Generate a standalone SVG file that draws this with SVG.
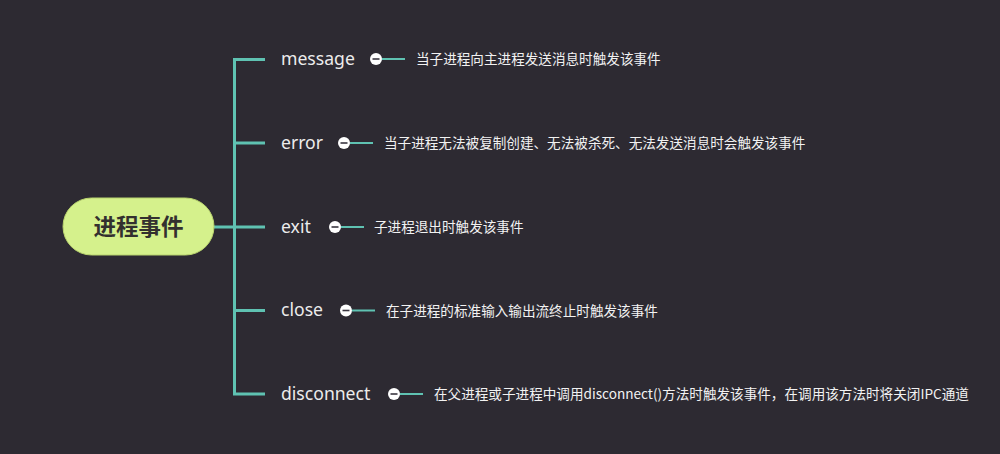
<svg xmlns="http://www.w3.org/2000/svg" width="1000" height="454" viewBox="0 0 1000 454">
<style>
.bg{fill:#2d2a32}
.ln{stroke:#5fc2b2;stroke-width:3;fill:none}
.sub{stroke:#5fc2b2;stroke-width:2;fill:none}
.lbl{font-family:"Noto Sans","Open Sans",sans-serif;font-size:17.6px;fill:#ececec}
.desc{font-family:"Noto Sans CJK SC","Noto Sans",sans-serif;font-size:13.6px;fill:#f2f2f2}
.root{font-family:"Noto Sans CJK SC","Noto Sans",sans-serif;font-size:22.5px;font-weight:bold;fill:#33302f}
.dot{fill:#ffffff}
.minus{stroke:#3a3640;stroke-width:1.6}
</style>
<defs>
<g id="collapse"><circle class="dot" r="6" cx="0" cy="0"/><line class="minus" x1="-3.5" y1="0" x2="3.5" y2="0"/></g>
</defs>
<rect class="bg" x="0" y="0" width="1000" height="454"/>
<g id="connectors">
<path class="ln" d="M214 227H234M265 59.5H234.5V394H265M234 143H265M234 227H265M234 310.5H265"/>
<path class="sub" d="M382 59H405M350 143H373M341 227H364M352 310.5H375M400 394H423"/>
</g>
<g id="root">
<rect x="63" y="198" width="151" height="57" rx="28.5" fill="#d5f18c" stroke="#b9d46e" stroke-width="1"/>
<text class="root" x="138.5" y="235" text-anchor="middle">进程事件</text>
</g>
<g id="message">
<text class="lbl" x="281" y="65">message</text>
<use href="#collapse" x="376" y="59"/>
<text class="desc" x="416" y="64">当子进程向主进程发送消息时触发该事件</text>
</g>
<g id="error">
<text class="lbl" x="281" y="149">error</text>
<use href="#collapse" x="344" y="143"/>
<text class="desc" x="384" y="148">当子进程无法被复制创建、无法被杀死、无法发送消息时会触发该事件</text>
</g>
<g id="exit">
<text class="lbl" x="281" y="233">exit</text>
<use href="#collapse" x="335" y="227"/>
<text class="desc" x="374" y="232">子进程退出时触发该事件</text>
</g>
<g id="close">
<text class="lbl" x="281" y="316">close</text>
<use href="#collapse" x="346" y="310.5"/>
<text class="desc" x="386" y="315.5">在子进程的标准输入输出流终止时触发该事件</text>
</g>
<g id="disconnect">
<text class="lbl" x="281" y="400">disconnect</text>
<use href="#collapse" x="394" y="394"/>
<text class="desc" x="434" y="399">在父进程或子进程中调用disconnect()方法时触发该事件，在调用该方法时将关闭IPC通道</text>
</g>
</svg>
